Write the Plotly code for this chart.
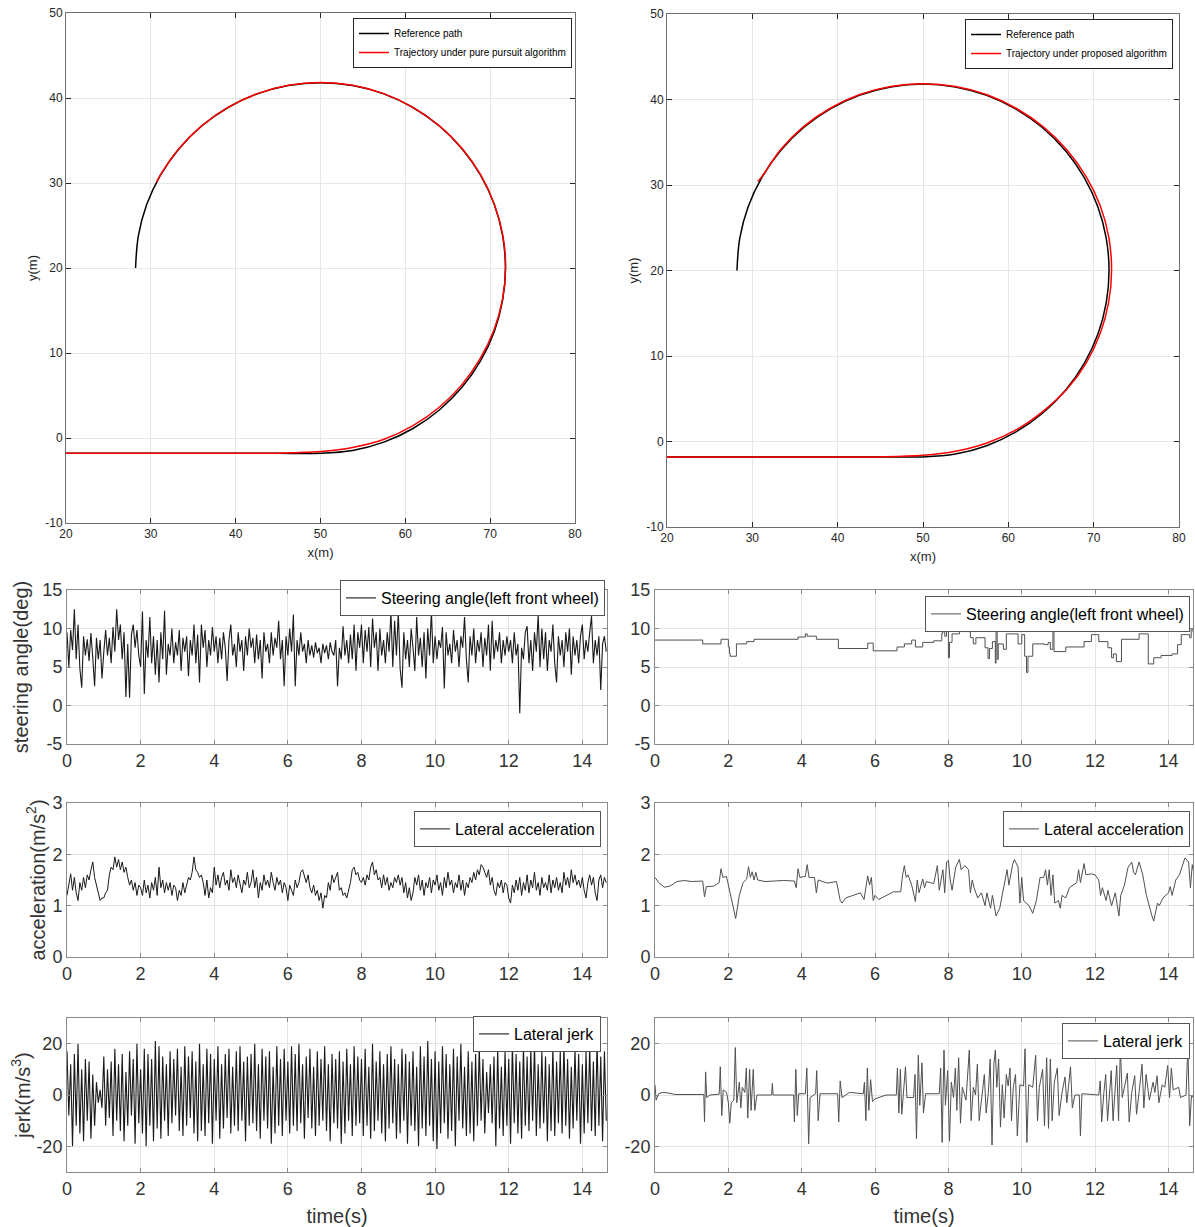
import plotly.graph_objects as go

W, H = 1195, 1227

# ---------------- trajectory data ----------------
REF_X = [20.0, 30.0, 40.0, 45.0, 50.00, 53.79, 57.46, 60.90, 64.01, 66.70, 68.88, 70.49, 71.47, 71.80,
         71.47, 70.49, 68.88, 66.70, 64.01, 60.90, 57.46, 53.79, 50.00, 46.21, 42.54, 39.10,
         35.99, 33.30, 31.12, 29.51, 28.53, 28.20]
REF_Y = [-1.80, -1.80, -1.80, -1.80, -1.80, -1.47, -0.49, 1.12, 3.30, 5.99, 9.10, 12.54, 16.22, 20.00,
         23.78, 27.46, 30.90, 34.01, 36.70, 38.88, 40.49, 41.47, 41.80, 41.47, 40.49, 38.88,
         36.70, 34.01, 30.90, 27.46, 23.78, 20.00]

PP_X = [20.0, 30.0, 40.0, 45.0, 50.0, 53.8, 57.5, 60.9, 64.0, 66.65, 68.8, 70.45, 71.45, 71.82,
        71.5, 70.5, 68.9, 66.72, 64.02, 60.9, 57.46, 53.79, 50.0, 46.21, 42.54, 39.1,
        35.99, 33.3, 31.12, 30.68]
PP_Y = [-1.80, -1.80, -1.80, -1.78, -1.60, -1.12, -0.15, 1.45, 3.62, 6.25, 9.30, 12.70, 16.30, 20.00,
        23.80, 27.48, 30.92, 34.03, 36.72, 38.90, 40.51, 41.50, 41.83, 41.50, 40.51, 38.90,
        36.72, 34.03, 30.92, 30.10]

PR_X = [20.0, 30.0, 40.0, 45.0, 50.0, 53.8, 57.5, 60.95, 64.1, 66.85, 69.1, 70.75, 71.75, 72.1,
        71.78, 70.78, 69.1, 66.85, 64.1, 60.95, 57.5, 53.82, 50.0, 46.2, 42.52, 39.08,
        35.97, 33.28, 31.10, 30.62]
PR_Y = [-1.80, -1.80, -1.82, -1.80, -1.62, -1.15, -0.18, 1.38, 3.55, 6.10, 9.15, 12.60, 16.25, 20.00,
        23.85, 27.55, 31.00, 34.12, 36.80, 38.95, 40.55, 41.52, 41.85, 41.52, 40.55, 38.95,
        36.80, 34.10, 30.95, 30.40]

XY_TICKS_X = [20, 30, 40, 50, 60, 70, 80]
XY_TICKS_Y = [-10, 0, 10, 20, 30, 40, 50]

# ---------------- time series, pure pursuit (sampled every 0.05 s) ----------------
DT = 0.05
STEER_L = [
    9.5, 5.0, 9.8, 7.2, 12.5, 6.0, 10.5, 4.8, 2.3, 9.0, 6.5, 8.6, 5.8, 9.4, 6.2, 2.5, 8.8, 6.0, 8.5, 3.5,
    7.0, 9.8, 6.5, 8.8, 5.5, 10.2, 7.0, 12.5, 8.5, 10.5, 6.0, 9.5, 1.1, 8.0, 1.0, 9.2, 10.5, 7.5, 9.8, 6.5,
    5.0, 12.2, 1.5, 8.5, 6.2, 11.5, 5.5, 9.0, 4.0, 8.5, 3.0, 9.5, 6.0, 12.3, 4.0, 8.0, 6.5, 10.0, 5.5, 8.2,
    6.5, 9.8, 4.5, 8.8, 7.0, 9.0, 3.8, 8.5, 6.5, 10.5, 5.5, 9.2, 3.0, 10.5, 7.5, 9.8, 5.0, 8.5, 6.5, 10.2,
    7.0, 9.0, 5.5, 8.8, 6.0, 9.5, 7.5, 3.2, 8.5, 10.5, 6.5, 8.0, 5.0, 9.5, 7.0, 8.5, 4.5, 9.0, 6.5, 10.0,
    7.5, 8.8, 5.5, 9.2, 6.0, 8.5, 3.5, 9.5, 7.0, 8.0, 5.5, 9.5, 6.5, 8.8, 7.5, 11.0, 6.0, 8.5, 2.5, 9.0,
    6.5, 10.0, 7.0, 11.8, 2.5, 8.5, 6.5, 9.5, 7.0, 8.0, 5.5, 8.5, 6.5, 7.8, 6.2, 8.2, 6.8, 7.5, 5.5, 8.0,
    6.8, 7.8, 6.0, 8.2, 7.0, 6.5, 8.5, 2.5, 7.5, 6.0, 10.3, 6.5, 8.5, 5.5, 9.2, 6.0, 10.5, 4.5, 9.5, 7.5,
    10.5, 5.5, 9.8, 7.0, 10.2, 5.0, 11.3, 7.5, 9.5, 4.5, 10.0, 6.5, 8.5, 5.5, 9.5, 7.0, 12.2, 5.0, 11.0, 6.5,
    12.2, 4.8, 2.3, 9.5, 6.0, 8.5, 5.0, 10.0, 7.5, 4.5, 11.5, 6.5, 8.8, 5.0, 9.5, 3.5, 10.0, 6.5, 12.3, 5.5,
    9.0, 6.0, 8.5, 7.5, 10.2, 2.2, 9.5, 6.5, 8.0, 5.5, 9.8, 7.0, 8.5, 5.0, 9.0, 7.5, 11.5, 6.0, 3.0, 9.0,
    6.5, 10.0, 5.5, 8.5, 7.0, 9.5, 5.0, 8.8, 6.5, 10.5, 4.5, 11.0, 6.0, 8.5, 7.0, 9.5, 5.5, 8.5, 6.5, 9.0,
    7.0, 8.5, 5.5, 9.5, 6.5, 8.0, -1.0, 7.5, 6.0, 9.5, 10.3, 5.5, 8.5, 4.5, 9.5, 7.0, 11.8, 5.0, 10.0, 6.0,
    9.5, 4.5, 8.5, 7.0, 10.5, 5.5, 3.0, 9.0, 6.5, 8.5, 5.0, 9.5, 7.0, 10.0, 4.0, 9.0, 6.5, 8.5, 5.5, 9.0,
    10.5, 6.0, 8.5, 7.0, 9.5, 11.6, 5.5, 8.5, 6.5, 9.0, 2.0, 8.0, 9.0, 7.0,
]
ACC_L = [
    1.20, 1.45, 1.62, 1.30, 1.55, 1.25, 1.10, 1.45, 1.30, 1.55, 1.35, 1.60, 1.50, 1.70, 1.85, 1.55, 1.40, 1.20, 1.10, 1.15,
    1.15, 1.25, 1.30, 1.60, 1.75, 1.70, 1.95, 1.75, 1.90, 1.70, 1.85, 1.65, 1.75, 1.55, 1.40, 1.50, 1.30, 1.45, 1.20, 1.40,
    1.35, 1.20, 1.50, 1.25, 1.40, 1.15, 1.45, 1.30, 1.55, 1.20, 1.75, 1.35, 1.50, 1.25, 1.45, 1.30, 1.45, 1.20, 1.40, 1.35,
    1.10, 1.30, 1.20, 1.45, 1.25, 1.40, 1.55, 1.50, 1.65, 1.95, 1.70, 1.65, 1.55, 1.60, 1.45, 1.20, 1.50, 1.15, 1.35, 1.25,
    1.75, 1.40, 1.60, 1.35, 1.55, 1.65, 1.40, 1.50, 1.30, 1.70, 1.45, 1.55, 1.35, 1.60, 1.45, 1.25, 1.50, 1.40, 1.65, 1.35,
    1.45, 1.70, 1.35, 1.55, 1.15, 1.45, 1.30, 1.60, 1.40, 1.50, 1.35, 1.65, 1.45, 1.30, 1.55, 1.40, 1.50, 1.25, 1.45, 1.35,
    1.10, 1.40, 1.30, 1.20, 1.50, 1.35, 1.45, 1.65, 1.70, 1.55, 1.45, 1.60, 1.35, 1.25, 1.40, 1.20, 1.30, 1.10, 1.25, 0.95,
    1.20, 1.15, 1.45, 1.30, 1.60, 1.45, 1.55, 1.65, 1.30, 1.35, 1.20, 1.25, 1.15, 1.30, 1.45, 1.70, 1.75, 1.60, 1.65, 1.50,
    1.45, 1.55, 1.40, 1.60, 1.50, 1.75, 1.85, 1.60, 1.70, 1.50, 1.55, 1.35, 1.60, 1.40, 1.55, 1.30, 1.45, 1.35, 1.55, 1.45,
    1.60, 1.40, 1.55, 1.25, 1.45, 1.15, 1.35, 1.10, 1.25, 1.55, 1.40, 1.60, 1.30, 1.50, 1.20, 1.45, 1.35, 1.55, 1.25, 1.50,
    1.40, 1.60, 1.30, 1.45, 1.20, 1.55, 1.35, 1.65, 1.40, 1.50, 1.25, 1.45, 1.35, 1.60, 1.30, 1.50, 1.20, 1.45, 1.35, 1.55,
    1.45, 1.65, 1.50, 1.70, 1.60, 1.80, 1.75, 1.65, 1.55, 1.70, 1.40, 1.55, 1.30, 1.20, 1.45, 1.35, 1.50, 1.25, 1.45, 1.40,
    1.15, 1.05, 1.40, 1.25, 1.50, 1.30, 1.55, 1.20, 1.45, 1.30, 1.60, 1.25, 1.50, 1.35, 1.65, 1.30, 1.45, 1.20, 1.55, 1.35,
    1.45, 1.30, 1.60, 1.25, 1.50, 1.35, 1.55, 1.30, 1.45, 1.25, 1.65, 1.40, 1.55, 1.35, 1.70, 1.45, 1.60, 1.40, 1.50, 1.35,
    1.55, 1.30, 1.15, 1.45, 1.60, 1.40, 1.55, 1.25, 1.10, 1.50, 1.60, 1.35, 1.55, 1.45,
]
JERK_L = [
    17, -8, 12, -20, 16, -12, 20, -15, 10, -18, 14, -10, 13, -17, 8, -12, 5, -3, 2, -5,
    15, -12, 10, -9, 13, -16, 18, -10, 12, -14, 16, -18, 9, -12, 17, -8, 14, -19, 20, -11,
    10, -15, 18, -20, 16, -12, 14, -18, 21, -13, 19, -17, 15, -10, 12, -16, 17, -11, 14, -8,
    18, -14, 11, -16, 19, -12, 15, -9, 17, -15, 13, -18, 20, -14, 12, -16, 18, -11, 16, -19,
    14, -10, 19, -17, 12, -13, 16, -9, 18, -15, 11, -12, 17, -14, 19, -10, 13, -18, 15, -12,
    16, -11, 20, -14, 12, -17, 18, -10, 15, -13, 17, -19, 11, -15, 19, -12, 14, -16, 18, -10,
    13, -15, 19, -12, 16, -14, 20, -11, 12, -17, 15, -9, 18, -13, 11, -16, 17, -12, 14, -10,
    19, -14, 12, -18, 16, -11, 14, -13, 17, -19, 13, -15, 18, -10, 12, -16, 19, -12, 15, -11,
    14, -16, 18, -12, 11, -17, 20, -14, 13, -10, 17, -15, 12, -18, 16, -13, 19, -11, 14, -17,
    12, -15, 18, -10, 16, -19, 13, -12, 17, -14, 11, -20, 19, -13, 15, -16, 21, -12, 14, -18,
    17, -21, 13, -15, 19, -11, 16, -17, 12, -14, 18, -20, 15, -10, 20, -13, 11, -16, 17, -15,
    13, -18, 16, -12, 19, -10, 14, -15, 9, -7, 12, -11, 15, -20, 18, -13, 11, -16, 17, -12,
    14, -19, 20, -11, 16, -15, 13, -17, 19, -12, 15, -14, 18, -10, 20, -16, 12, -13, 17, -11,
    15, -18, 12, -14, 19, -16, 13, -11, 17, -15, 20, -12, 14, -17, 11, -13, 18, -10, 16, -19,
    12, -15, 17, -11, 19, -14, 13, -16, 21, -12, 15, -18, 17, -10,
]
T_L = [round(i * DT, 2) for i in range(len(STEER_L))]

# ---------------- time series, proposed algorithm ----------------
STEER_R_T = [0.00, 1.30, 1.80, 2.00, 2.03, 2.05, 2.22, 2.50, 2.70, 3.90, 4.10, 4.15, 4.40, 5.00, 5.80, 5.95,
             6.60, 6.80, 7.00, 7.10, 7.30, 7.60, 7.82, 7.85, 7.90, 7.95, 8.00, 8.03, 8.10, 8.30, 8.35, 8.60,
             8.68, 8.75, 9.00, 9.08, 9.12, 9.20, 9.28, 9.30, 9.33, 9.36, 9.50, 9.58, 9.90, 10.00, 10.08,
             10.13, 10.17, 10.30, 10.62, 10.72, 10.78, 10.85, 10.88, 11.20, 11.70, 11.90, 12.10, 12.35,
             12.45, 12.50, 12.58, 12.72, 13.20, 13.45, 13.60, 13.80, 14.10, 14.25, 14.35, 14.58, 14.62, 14.67]
STEER_R_V = [8.5, 8.0, 8.6, 7.6, 6.8, 6.4, 8.0, 8.3, 8.6, 8.9, 9.3, 9.0, 8.6, 7.4, 8.1, 7.1,
             7.6, 8.0, 8.5, 7.6, 8.2, 8.4, 9.4, 10.2, 9.0, 10.0, 6.2, 8.2, 9.3, 10.3, 9.6, 8.8,
             8.0, 8.8, 7.5, 6.1, 7.4, 8.3, 5.5, 9.7, 6.0, 8.0, 7.3, 9.3, 8.0, 9.2, 6.4,
             4.3, 6.4, 8.0, 7.9, 8.2, 7.3, 10.1, 7.0, 7.6, 8.3, 9.2, 8.3, 7.5,
             6.2, 6.7, 5.7, 8.6, 9.3, 5.4, 6.2, 6.5, 6.7, 7.9, 9.2, 8.8, 9.9, 9.5]

ACC_R_T = [0.00, 0.10, 0.25, 0.40, 0.60, 0.80, 1.00, 1.30, 1.35, 1.40, 1.60, 1.75, 1.80, 1.85, 1.95, 2.00,
           2.10, 2.20, 2.30, 2.40, 2.50, 2.55, 2.60, 2.65, 2.70, 2.75, 2.80, 3.00, 3.50, 3.80, 3.85, 3.90,
           3.95, 4.10, 4.15, 4.20, 4.35, 4.40, 4.45, 4.70, 4.95, 5.05, 5.10, 5.20, 5.40, 5.60, 5.70, 5.80,
           5.85, 5.90, 5.95, 6.00, 6.10, 6.30, 6.50, 6.70, 6.75, 6.80, 6.85, 6.90, 7.00, 7.10, 7.15, 7.20,
           7.30, 7.35, 7.40, 7.60, 7.70, 7.75, 7.85, 7.90, 7.95, 8.00, 8.05, 8.10, 8.20, 8.30, 8.35, 8.45,
           8.55, 8.60, 8.65, 8.70, 8.80, 8.90, 9.00, 9.05, 9.15, 9.20, 9.30, 9.40, 9.50, 9.60, 9.65, 9.75,
           9.80, 9.90, 9.95, 10.00, 10.05, 10.20, 10.30, 10.40, 10.50, 10.60, 10.65, 10.70, 10.75, 10.80,
           10.85, 10.90, 11.00, 11.05, 11.10, 11.20, 11.30, 11.50, 11.55, 11.60, 11.70, 11.75, 11.90, 12.00,
           12.10, 12.15, 12.20, 12.30, 12.35, 12.45, 12.55, 12.65, 12.70, 12.80, 12.90, 13.00, 13.05, 13.10,
           13.20, 13.30, 13.40, 13.45, 13.55, 13.60, 13.70, 13.75, 13.85, 14.00, 14.05, 14.10, 14.20, 14.30,
           14.40, 14.45, 14.55, 14.60, 14.65, 14.67]
ACC_R_V = [1.55, 1.45, 1.36, 1.38, 1.47, 1.49, 1.47, 1.48, 1.17, 1.37, 1.38, 1.45, 1.72, 1.55, 1.57, 1.40,
           1.10, 0.75, 1.20, 1.45, 1.52, 1.76, 1.55, 1.66, 1.50, 1.65, 1.50, 1.47, 1.49, 1.48, 1.35, 1.72,
           1.55, 1.57, 1.80, 1.55, 1.55, 1.25, 1.50, 1.44, 1.47, 1.10, 1.05, 1.15, 1.20, 1.25, 1.12, 1.58,
           1.40, 1.55, 1.10, 1.20, 1.12, 1.20, 1.27, 1.27, 1.60, 1.78, 1.55, 1.60, 1.40, 1.08, 1.50, 1.25,
           1.52, 1.35, 1.47, 1.43, 1.78, 1.30, 1.70, 1.25, 1.85, 1.88, 1.50, 1.30, 1.75, 1.90, 1.70, 1.78,
           1.70, 1.25, 1.50, 1.35, 1.15, 1.25, 1.00, 1.25, 0.95, 1.20, 0.80, 0.95, 1.30, 1.70, 1.40, 1.80,
           1.90, 1.75, 1.05, 1.55, 1.10, 1.00, 0.85, 1.10, 1.55, 1.55, 1.70, 1.40, 1.70, 1.20,
           1.60, 1.05, 1.10, 0.95, 1.20, 1.15, 1.35, 1.45, 1.70, 1.45, 1.82, 1.60, 1.62, 1.60,
           1.50, 1.20, 1.35, 1.10, 1.30, 1.00, 1.25, 0.80, 1.20, 1.40, 1.75, 1.85, 1.65, 1.60,
           1.85, 1.60, 1.20, 1.05, 0.80, 0.70, 1.05, 1.00, 1.15, 1.25, 1.37, 1.20, 1.50, 1.60,
           1.85, 1.93, 1.85, 1.35, 1.80, 1.70]

JERK_R_T = [0.00, 0.03, 0.10, 0.20, 0.35, 0.55, 1.33, 1.35, 1.38, 1.41, 1.50, 1.75, 1.78, 1.82, 1.86, 1.95,
            2.00, 2.04, 2.08, 2.15, 2.19, 2.23, 2.30, 2.34, 2.38, 2.45, 2.49, 2.53, 2.58, 2.62, 2.68, 2.72,
            2.78, 3.18, 3.20, 3.22, 3.78, 3.80, 3.84, 3.88, 3.92, 4.10, 4.14, 4.19, 4.23, 4.38, 4.41, 4.45,
            4.50, 4.98, 5.01, 5.05, 5.10, 5.30, 5.68, 5.71, 5.75, 5.79, 5.83, 5.88, 5.93, 6.00, 6.30, 6.58,
            6.61, 6.65, 6.69, 6.73, 6.83, 6.87, 7.05, 7.09, 7.13, 7.18, 7.22, 7.28, 7.32, 7.38, 7.75, 7.79,
            7.83, 7.88, 7.92, 7.98, 8.03, 8.08, 8.14, 8.19, 8.23, 8.28, 8.33, 8.38, 8.48, 8.57, 8.62, 8.68,
            8.74, 8.79, 8.84, 8.92, 8.98, 9.03, 9.09, 9.14, 9.19, 9.24, 9.28, 9.32, 9.37, 9.42, 9.47, 9.52,
            9.58, 9.63, 9.68, 9.72, 9.77, 9.83, 9.88, 9.95, 10.05, 10.09, 10.14, 10.19, 10.30, 10.38, 10.43,
            10.48, 10.57, 10.62, 10.68, 10.73, 10.78, 10.83, 10.89, 10.97, 11.02, 11.10, 11.18, 11.23, 11.33,
            11.38, 11.45, 11.57, 11.60, 11.64, 12.10, 12.14, 12.18, 12.24, 12.29, 12.34, 12.40, 12.44, 12.49,
            12.55, 12.59, 12.64, 12.69, 12.74, 12.80, 12.88, 12.93, 13.00, 13.08, 13.13, 13.20, 13.28, 13.33,
            13.39, 13.48, 13.58, 13.63, 13.69, 13.74, 13.83, 13.90, 13.98, 14.03, 14.08, 14.13, 14.28, 14.33,
            14.48, 14.53, 14.58, 14.63, 14.67]
JERK_R_V = [4.0, -2.0, 0.5, 1.0, 0.8, 0.2, 0.2, -10.5, 9.0, -1.0, 0.0, 0.3, 11.0, -8.0, 2.0, 1.0,
            -3.0, -11.0, -3.0, -2.0, 18.5, -3.0, 5.0, -5.0, 3.0, 1.0, 10.5, -9.0, 10.0, -6.0, 10.0, -6.0,
            0.0, 0.0, 4.5, 0.0, 0.0, -10.5, 10.0, -8.0, 0.5, 0.5, 10.5, -19.0, -1.0, 0.5, 9.5, -10.0,
            0.5, 0.5, -10.5, 5.5, -1.0, 1.0, 0.5, 5.0, -10.0, 10.5, -6.0, 6.0, -2.5, -1.5, 0.0, 0.0,
            10.5, -7.0, 10.0, -7.5, 11.0, -1.0, -1.0, 8.0, -17.0, 15.5, -4.0, 12.5, -7.0, 0.5, 0.5, 10.5,
            -18.5, 17.5, -4.0, 9.5, -18.0, 5.0, -1.0, 10.5, -6.0, 14.5, -11.0, 3.0, -2.0, 17.5, -10.0, 3.0,
            0.0, 12.0, -10.0, 0.0, 8.0, -7.0, 1.0, 14.0, -19.5, 12.0, 17.5, 3.0, 14.0, -12.5, 4.0, -9.0,
            8.0, 3.5, 10.5, -10.0, 3.0, 8.0, -16.0, 4.0, 3.5, 18.0, -18.5, 4.0, 3.0, 15.5, -10.0,
            3.0, 10.0, -12.0, 14.5, -13.0, 14.0, -10.0, 5.0, 10.5, -8.0, 1.0, 7.0, -3.0, 11.0,
            -5.0, 0.0, 0.0, -16.0, 0.5, 0.0, 5.5, -10.5, 1.0, 8.0, -10.0, 1.0, 9.5, -10.0,
            1.0, 11.5, -10.0, 18.5, -1.0, 3.0, 8.5, -10.5, 1.0, 7.5, -7.5, 1.0, 12.0, -5.0,
            8.0, -2.0, 5.0, 1.0, 7.5, -3.0, 4.0, 3.0, 11.5, -1.0, 10.5, 2.0, 3.0, -1.0,
            0.0, 18.5, -12.0, 0.0, -1.0]

T_TICKS = [0, 2, 4, 6, 8, 10, 12, 14]
STEER_TICKS = [-5, 0, 5, 10, 15]
ACC_TICKS = [0, 1, 2, 3]
JERK_TICKS = [-20, 0, 20]

# ---------------- layout helpers ----------------
FONT = "Liberation Sans, Arial, sans-serif"


def dom_x(a, b):
    return [a / W, b / W]


def dom_y(top, bottom):
    return [1 - bottom / H, 1 - top / H]


def lbl(v):
    return str(v)


fig = go.Figure()

# top panels
fig.add_trace(go.Scatter(x=REF_X, y=REF_Y, mode="lines", line=dict(color="black", width=1.5, shape="spline"),
                         name="Reference path", xaxis="x", yaxis="y", legend="legend"))
fig.add_trace(go.Scatter(x=PP_X, y=PP_Y, mode="lines", line=dict(color="#ff0000", width=1.5, shape="spline"),
                         name="Trajectory under pure pursuit algorithm", xaxis="x", yaxis="y", legend="legend"))
fig.add_trace(go.Scatter(x=REF_X, y=REF_Y, mode="lines", line=dict(color="black", width=1.5, shape="spline"),
                         name="Reference path", xaxis="x2", yaxis="y2", legend="legend2"))
fig.add_trace(go.Scatter(x=PR_X, y=PR_Y, mode="lines", line=dict(color="#ff0000", width=1.5, shape="spline"),
                         name="Trajectory under proposed algorithm", xaxis="x2", yaxis="y2", legend="legend2"))

DARK = "#1a1a1a"
GREY = "#505050"
fig.add_trace(go.Scatter(x=T_L, y=STEER_L, mode="lines", line=dict(color=DARK, width=1.1),
                         name="Steering angle(left front wheel)", xaxis="x3", yaxis="y3", legend="legend3"))
fig.add_trace(go.Scatter(x=STEER_R_T, y=STEER_R_V, mode="lines", line=dict(color=GREY, width=1, shape="hv"),
                         name="Steering angle(left front wheel)", xaxis="x4", yaxis="y4", legend="legend4"))
fig.add_trace(go.Scatter(x=T_L, y=ACC_L, mode="lines", line=dict(color=DARK, width=1),
                         name="Lateral acceleration", xaxis="x5", yaxis="y5", legend="legend5"))
fig.add_trace(go.Scatter(x=ACC_R_T, y=ACC_R_V, mode="lines", line=dict(color=GREY, width=1),
                         name="Lateral acceleration", xaxis="x6", yaxis="y6", legend="legend6"))
fig.add_trace(go.Scatter(x=T_L, y=JERK_L, mode="lines", line=dict(color=DARK, width=1.1),
                         name="Lateral jerk", xaxis="x7", yaxis="y7", legend="legend7"))
fig.add_trace(go.Scatter(x=JERK_R_T, y=JERK_R_V, mode="lines", line=dict(color=GREY, width=1),
                         name="Lateral jerk", xaxis="x8", yaxis="y8", legend="legend8"))


def top_axis(domain, rng, ticks, title, anchor, standoff=7):
    return dict(domain=domain, range=rng, tickvals=ticks, ticktext=[lbl(t) for t in ticks],
                showline=True, linecolor="#6e6e6e", linewidth=1, mirror="ticks",
                ticks="inside", ticklen=5, tickcolor="#262626",
                showgrid=True, gridcolor="#e6e6e6", gridwidth=1, zeroline=False,
                tickfont=dict(family=FONT, size=12, color="#262626"),
                title=dict(text=title, font=dict(family=FONT, size=13, color="#262626"), standoff=standoff),
                anchor=anchor, fixedrange=True, automargin=False)


def ts_axis(domain, rng, ticks, title, anchor, standoff=6):
    ax = dict(domain=domain, range=rng, tickvals=ticks, ticktext=[lbl(t) for t in ticks],
              showline=True, linecolor="#8a8a8a", linewidth=1, mirror="ticks",
              ticks="inside", ticklen=4, tickcolor="#8a8a8a",
              showgrid=True, gridcolor="#e3e3e3", gridwidth=1, zeroline=False,
              tickfont=dict(family=FONT, size=18, color="#333333"),
              anchor=anchor, fixedrange=True, automargin=False)
    if title:
        ax["title"] = dict(text=title, font=dict(family=FONT, size=20, color="#333333"), standoff=standoff)
    return ax


TL_X, TR_X = dom_x(66, 575), dom_x(667, 1179)
L_X, R_X = dom_x(67, 607), dom_x(655, 1193)
T_RANGE = [0, 14.67]

layout = dict(
    width=W, height=H, margin=dict(l=0, r=0, t=0, b=0, autoexpand=False),
    paper_bgcolor="white", plot_bgcolor="white",
    font=dict(family=FONT, color="#262626"),
    xaxis=top_axis(TL_X, [20, 80], XY_TICKS_X, "x(m)", "y"),
    yaxis=top_axis(dom_y(13, 523), [-10, 50], XY_TICKS_Y, "y(m)", "x", standoff=4),
    xaxis2=top_axis(TR_X, [20, 80], XY_TICKS_X, "x(m)", "y2"),
    yaxis2=top_axis(dom_y(14, 527), [-10, 50], XY_TICKS_Y, "y(m)", "x2", standoff=4),
    xaxis3=ts_axis(L_X, T_RANGE, T_TICKS, "", "y3"),
    yaxis3=ts_axis(dom_y(590, 744), [-5, 15], STEER_TICKS, "steering angle(deg)", "x3", standoff=8),
    xaxis4=ts_axis(R_X, T_RANGE, T_TICKS, "", "y4"),
    yaxis4=ts_axis(dom_y(590, 744), [-5, 15], STEER_TICKS, "", "x4"),
    xaxis5=ts_axis(L_X, T_RANGE, T_TICKS, "", "y5"),
    yaxis5=ts_axis(dom_y(803, 957), [0, 3], ACC_TICKS, "acceleration(m/s<sup>2</sup>)", "x5", standoff=1),
    xaxis6=ts_axis(R_X, T_RANGE, T_TICKS, "", "y6"),
    yaxis6=ts_axis(dom_y(803, 957), [0, 3], ACC_TICKS, "", "x6"),
    xaxis7=ts_axis(L_X, T_RANGE, T_TICKS, "time(s)", "y7", standoff=11),
    yaxis7=ts_axis(dom_y(1018, 1172), [-30, 30], JERK_TICKS, "jerk(m/s<sup>3</sup>)", "x7", standoff=0),
    xaxis8=ts_axis(R_X, T_RANGE, T_TICKS, "time(s)", "y8", standoff=11),
    yaxis8=ts_axis(dom_y(1018, 1172), [-30, 30], JERK_TICKS, "", "x8"),
    showlegend=True,
)


def legend_at(right_px, top_px, size, border):
    return dict(x=right_px / W, y=1 - top_px / H, xanchor="right", yanchor="top",
                xref="paper", yref="paper", bgcolor="white", bordercolor=border, borderwidth=1,
                font=dict(family=FONT, size=size, color="#000000"), itemwidth=30,
                tracegroupgap=0, itemclick=False, itemdoubleclick=False)


layout["legend"] = legend_at(572, 18, 10, "#262626")
layout["legend2"] = legend_at(1173, 19, 10, "#262626")
layout["legend3"] = legend_at(605, 580, 16, "#555555")
layout["legend4"] = legend_at(1190, 596, 16, "#555555")
layout["legend5"] = legend_at(601, 811, 16, "#555555")
layout["legend6"] = legend_at(1190, 811, 16, "#555555")
layout["legend7"] = legend_at(601, 1016, 16, "#555555")
layout["legend8"] = legend_at(1190, 1023, 16, "#555555")

fig.update_layout(**layout)
fig.write_html("out.html", config={"displayModeBar": False},
               post_script="document.body.style.margin='0px';document.body.style.overflow='hidden';")
